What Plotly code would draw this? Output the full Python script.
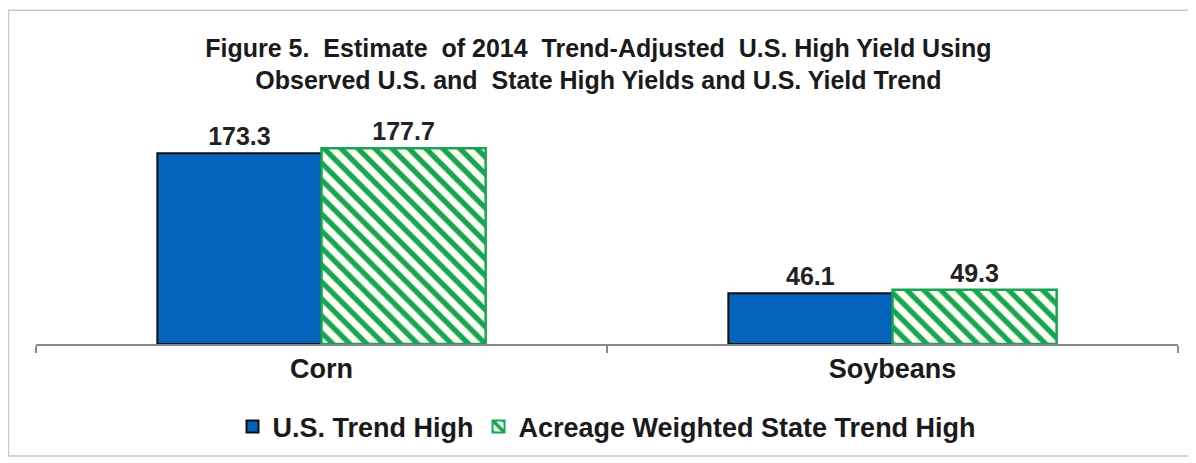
import plotly.graph_objects as go

crops = ["Corn", "Soybeans"]
us_trend_high = [173.3, 46.1]
state_trend_high = [177.7, 49.3]
series_names = ["U.S. Trend High", "Acreage Weighted State Trend High"]

title = ("Figure 5.  Estimate  of 2014  Trend-Adjusted  U.S. High Yield Using<br>"
         "Observed U.S. and  State High Yields and U.S. Yield Trend")

FONT = "Liberation Sans, Arial, sans-serif"
BLUE = "#0563BE"
GREEN = "#17A553"
CREAM = "#FCFFF2"

fig = go.Figure()
fig.add_trace(go.Bar(
    x=crops, y=us_trend_high, name=f"<b>{series_names[0]}</b>",
    marker=dict(color=BLUE, line=dict(color="#111111", width=2)),
    text=[f"<b>{v}</b>" for v in us_trend_high],
    textposition="outside", cliponaxis=False,
    textfont=dict(size=25, color="#222222", family=FONT),
))
fig.add_trace(go.Bar(
    x=crops, y=state_trend_high, name=f"<b>{series_names[1]}</b>",
    marker=dict(color=CREAM, line=dict(color=GREEN, width=2.5),
                pattern=dict(shape="\\", fgcolor=GREEN, bgcolor=CREAM, fgopacity=1,
                             size=12, solidity=0.45, fillmode="overlay")),
    text=[f"<b>{v}</b>" for v in state_trend_high],
    textposition="outside", cliponaxis=False,
    textfont=dict(size=25, color="#222222", family=FONT),
))

fig.update_layout(
    width=1188, height=455,
    paper_bgcolor="white", plot_bgcolor="white",
    margin=dict(l=28, r=18, t=107, b=115),
    barmode="group", bargap=0.425, bargroupgap=0,
    title=dict(text=f"<b>{title}</b>", x=0.497, xanchor="center",
               y=0.893, yanchor="top",
               font=dict(size=25, color="#1a1a1a", family=FONT)),
    font=dict(family=FONT, color="#1a1a1a"),
    xaxis=dict(showline=True, linecolor="#888888", linewidth=1.5,
               ticks="outside", tickson="boundaries", ticklen=7,
               tickcolor="#888888", tickwidth=1.5,
               tickfont=dict(size=27, family=FONT, color="#1a1a1a"),
               tickvals=crops, ticktext=[f"<b>{c}</b>" for c in crops]),
    yaxis=dict(range=[0, 208], visible=False, showgrid=False),
    legend=dict(orientation="h", x=0.5, xanchor="center", y=-0.362, yanchor="middle",
                font=dict(size=27, family=FONT, color="#1a1a1a"),
                itemsizing="constant", traceorder="normal"),
    showlegend=True,
)

fig.add_shape(type="rect", xref="paper", yref="paper",
              x0=-0.0241, x1=1.0123, y0=-0.489, y1=1.457,
              line=dict(color="#c8c8c8", width=1.5), layer="below")

fig.write_html("out.html")
